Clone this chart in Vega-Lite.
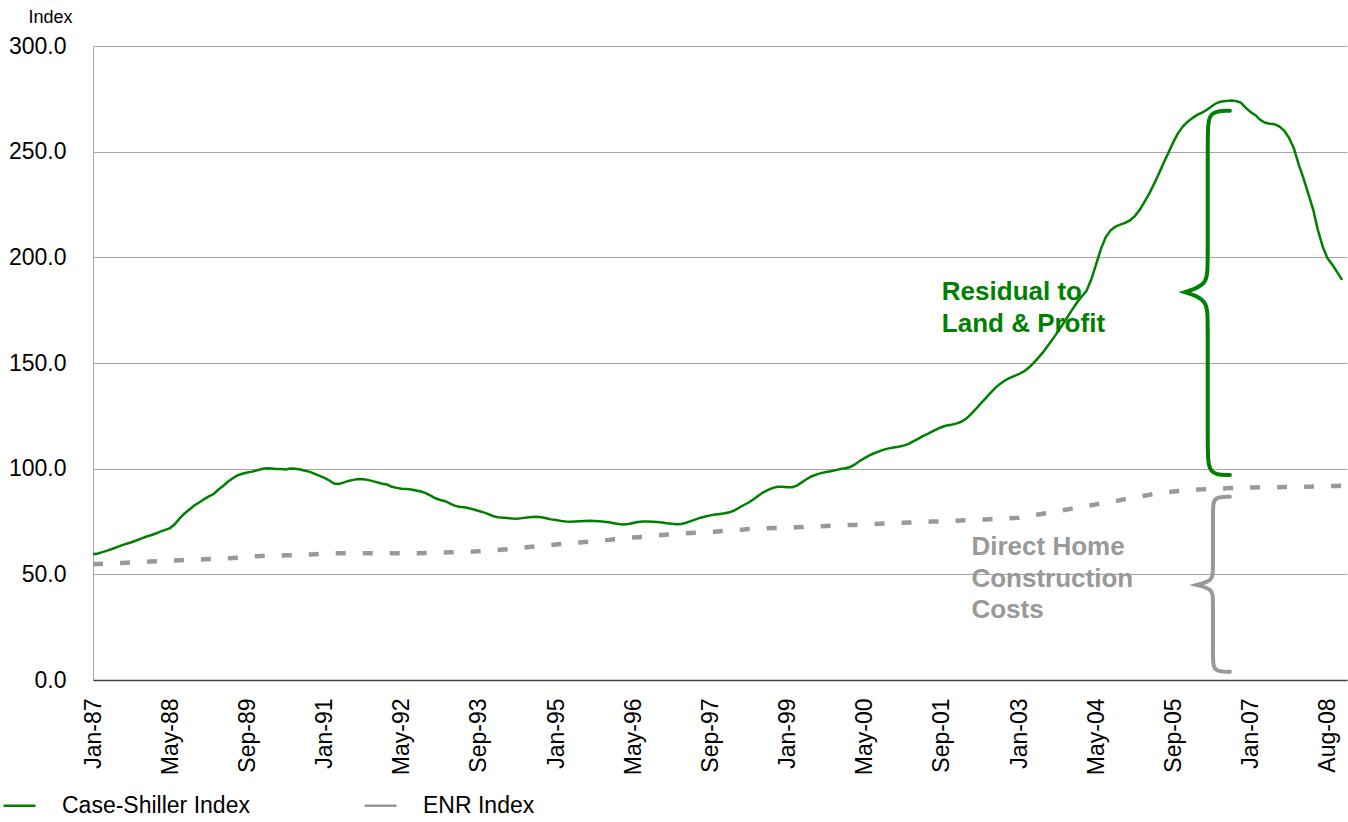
{
 "$schema": "https://vega.github.io/schema/vega-lite/v6.json",
 "width": 1254,
 "height": 634,
 "autosize": {"type": "none"},
 "padding": {"left": 93, "top": 46, "right": 1, "bottom": 142},
 "background": "white",
 "config": {"font": "Liberation Sans", "view": {"stroke": null}},
 "datasets": {
  "series": [
   {"d":"1987-01","cs":59.5,"enr":54.8},{"d":"1987-02","cs":59.9,"enr":54.9},{"d":"1987-03","cs":60.5,"enr":55.0},{"d":"1987-04","cs":61.2,"enr":55.1},{"d":"1987-05","cs":62.0,"enr":55.2},{"d":"1987-06","cs":62.9,"enr":55.3},{"d":"1987-07","cs":63.7,"enr":55.4},{"d":"1987-08","cs":64.5,"enr":55.5},{"d":"1987-09","cs":65.2,"enr":55.6},{"d":"1987-10","cs":66.0,"enr":55.7},{"d":"1987-11","cs":66.9,"enr":55.8},{"d":"1987-12","cs":67.8,"enr":55.9},
   {"d":"1988-01","cs":68.5,"enr":56.1},{"d":"1988-02","cs":69.3,"enr":56.2},{"d":"1988-03","cs":70.2,"enr":56.3},{"d":"1988-04","cs":71.0,"enr":56.4},{"d":"1988-05","cs":71.9,"enr":56.5},{"d":"1988-06","cs":73.8,"enr":56.6},{"d":"1988-07","cs":76.5,"enr":56.7},{"d":"1988-08","cs":78.8,"enr":56.8},{"d":"1988-09","cs":80.7,"enr":56.9},{"d":"1988-10","cs":82.6,"enr":57.0},{"d":"1988-11","cs":84.0,"enr":57.0},{"d":"1988-12","cs":85.5,"enr":57.1},
   {"d":"1989-01","cs":86.9,"enr":57.2},{"d":"1989-02","cs":88.0,"enr":57.3},{"d":"1989-03","cs":90.0,"enr":57.4},{"d":"1989-04","cs":91.8,"enr":57.5},{"d":"1989-05","cs":93.8,"enr":57.6},{"d":"1989-06","cs":95.5,"enr":57.7},{"d":"1989-07","cs":96.8,"enr":57.9},{"d":"1989-08","cs":97.6,"enr":58.1},{"d":"1989-09","cs":98.2,"enr":58.3},{"d":"1989-10","cs":98.6,"enr":58.5},{"d":"1989-11","cs":99.2,"enr":58.6},{"d":"1989-12","cs":99.8,"enr":58.7},
   {"d":"1990-01","cs":100.2,"enr":58.8},{"d":"1990-02","cs":100.1,"enr":58.8},{"d":"1990-03","cs":99.9,"enr":58.9},{"d":"1990-04","cs":99.8,"enr":58.9},{"d":"1990-05","cs":99.6,"enr":59.0},{"d":"1990-06","cs":100.1,"enr":59.0},{"d":"1990-07","cs":100.0,"enr":59.1},{"d":"1990-08","cs":99.6,"enr":59.2},{"d":"1990-09","cs":99.0,"enr":59.3},{"d":"1990-10","cs":98.5,"enr":59.4},{"d":"1990-11","cs":97.5,"enr":59.5},{"d":"1990-12","cs":96.6,"enr":59.6},
   {"d":"1991-01","cs":95.6,"enr":59.7},{"d":"1991-02","cs":94.4,"enr":59.8},{"d":"1991-03","cs":93.0,"enr":59.9},{"d":"1991-04","cs":92.8,"enr":60.0},{"d":"1991-05","cs":93.4,"enr":60.0},{"d":"1991-06","cs":94.2,"enr":60.0},{"d":"1991-07","cs":94.7,"enr":60.0},{"d":"1991-08","cs":95.1,"enr":60.0},{"d":"1991-09","cs":95.0,"enr":60.0},{"d":"1991-10","cs":94.7,"enr":60.0},{"d":"1991-11","cs":94.1,"enr":60.0},{"d":"1991-12","cs":93.5,"enr":60.0},
   {"d":"1992-01","cs":92.9,"enr":60.0},{"d":"1992-02","cs":92.5,"enr":60.0},{"d":"1992-03","cs":91.4,"enr":60.0},{"d":"1992-04","cs":90.9,"enr":60.0},{"d":"1992-05","cs":90.5,"enr":60.0},{"d":"1992-06","cs":90.4,"enr":60.0},{"d":"1992-07","cs":90.1,"enr":60.0},{"d":"1992-08","cs":89.7,"enr":60.0},{"d":"1992-09","cs":89.2,"enr":60.0},{"d":"1992-10","cs":88.4,"enr":60.1},{"d":"1992-11","cs":87.2,"enr":60.1},{"d":"1992-12","cs":86.0,"enr":60.2},
   {"d":"1993-01","cs":85.2,"enr":60.3},{"d":"1993-02","cs":84.6,"enr":60.3},{"d":"1993-03","cs":83.6,"enr":60.4},{"d":"1993-04","cs":82.5,"enr":60.5},{"d":"1993-05","cs":82.0,"enr":60.6},{"d":"1993-06","cs":81.7,"enr":60.6},{"d":"1993-07","cs":81.3,"enr":60.7},{"d":"1993-08","cs":80.7,"enr":60.8},{"d":"1993-09","cs":80.0,"enr":60.9},{"d":"1993-10","cs":79.3,"enr":61.0},{"d":"1993-11","cs":78.5,"enr":61.1},{"d":"1993-12","cs":77.5,"enr":61.3},
   {"d":"1994-01","cs":77.0,"enr":61.5},{"d":"1994-02","cs":76.8,"enr":61.7},{"d":"1994-03","cs":76.6,"enr":61.9},{"d":"1994-04","cs":76.4,"enr":62.1},{"d":"1994-05","cs":76.3,"enr":62.3},{"d":"1994-06","cs":76.6,"enr":62.5},{"d":"1994-07","cs":76.9,"enr":62.8},{"d":"1994-08","cs":77.1,"enr":63.1},{"d":"1994-09","cs":77.2,"enr":63.3},{"d":"1994-10","cs":77.0,"enr":63.5},{"d":"1994-11","cs":76.5,"enr":63.7},{"d":"1994-12","cs":76.0,"enr":63.9},
   {"d":"1995-01","cs":75.7,"enr":64.1},{"d":"1995-02","cs":75.3,"enr":64.3},{"d":"1995-03","cs":75.0,"enr":64.5},{"d":"1995-04","cs":74.9,"enr":64.7},{"d":"1995-05","cs":75.0,"enr":64.9},{"d":"1995-06","cs":75.1,"enr":65.1},{"d":"1995-07","cs":75.2,"enr":65.3},{"d":"1995-08","cs":75.3,"enr":65.5},{"d":"1995-09","cs":75.2,"enr":65.7},{"d":"1995-10","cs":75.1,"enr":65.9},{"d":"1995-11","cs":74.9,"enr":66.1},{"d":"1995-12","cs":74.6,"enr":66.3},
   {"d":"1996-01","cs":74.2,"enr":66.6},{"d":"1996-02","cs":73.8,"enr":66.8},{"d":"1996-03","cs":73.6,"enr":67.0},{"d":"1996-04","cs":73.8,"enr":67.2},{"d":"1996-05","cs":74.3,"enr":67.4},{"d":"1996-06","cs":74.8,"enr":67.6},{"d":"1996-07","cs":75.0,"enr":67.8},{"d":"1996-08","cs":75.0,"enr":68.0},{"d":"1996-09","cs":74.9,"enr":68.2},{"d":"1996-10","cs":74.8,"enr":68.4},{"d":"1996-11","cs":74.5,"enr":68.6},{"d":"1996-12","cs":74.2,"enr":68.8},
   {"d":"1997-01","cs":73.9,"enr":68.9},{"d":"1997-02","cs":73.7,"enr":69.1},{"d":"1997-03","cs":73.8,"enr":69.3},{"d":"1997-04","cs":74.4,"enr":69.4},{"d":"1997-05","cs":75.2,"enr":69.6},{"d":"1997-06","cs":76.0,"enr":69.7},{"d":"1997-07","cs":76.8,"enr":69.8},{"d":"1997-08","cs":77.4,"enr":69.9},{"d":"1997-09","cs":77.9,"enr":70.0},{"d":"1997-10","cs":78.3,"enr":70.2},{"d":"1997-11","cs":78.6,"enr":70.4},{"d":"1997-12","cs":78.9,"enr":70.6},
   {"d":"1998-01","cs":79.4,"enr":70.7},{"d":"1998-02","cs":80.3,"enr":70.9},{"d":"1998-03","cs":81.5,"enr":71.1},{"d":"1998-04","cs":82.8,"enr":71.2},{"d":"1998-05","cs":84.0,"enr":71.4},{"d":"1998-06","cs":85.5,"enr":71.5},{"d":"1998-07","cs":87.2,"enr":71.6},{"d":"1998-08","cs":88.8,"enr":71.7},{"d":"1998-09","cs":90.0,"enr":71.8},{"d":"1998-10","cs":90.9,"enr":71.9},{"d":"1998-11","cs":91.4,"enr":72.0},{"d":"1998-12","cs":91.4,"enr":72.0},
   {"d":"1999-01","cs":91.2,"enr":72.1},{"d":"1999-02","cs":91.2,"enr":72.2},{"d":"1999-03","cs":92.0,"enr":72.3},{"d":"1999-04","cs":93.5,"enr":72.4},{"d":"1999-05","cs":95.0,"enr":72.5},{"d":"1999-06","cs":96.3,"enr":72.6},{"d":"1999-07","cs":97.2,"enr":72.7},{"d":"1999-08","cs":97.9,"enr":72.8},{"d":"1999-09","cs":98.4,"enr":72.9},{"d":"1999-10","cs":98.8,"enr":73.0},{"d":"1999-11","cs":99.3,"enr":73.1},{"d":"1999-12","cs":99.8,"enr":73.2},
   {"d":"2000-01","cs":100.2,"enr":73.3},{"d":"2000-02","cs":100.8,"enr":73.4},{"d":"2000-03","cs":102.0,"enr":73.4},{"d":"2000-04","cs":103.6,"enr":73.5},{"d":"2000-05","cs":105.0,"enr":73.6},{"d":"2000-06","cs":106.3,"enr":73.7},{"d":"2000-07","cs":107.3,"enr":73.8},{"d":"2000-08","cs":108.2,"enr":73.9},{"d":"2000-09","cs":109.0,"enr":74.0},{"d":"2000-10","cs":109.6,"enr":74.1},{"d":"2000-11","cs":110.0,"enr":74.2},{"d":"2000-12","cs":110.4,"enr":74.3},
   {"d":"2001-01","cs":110.9,"enr":74.4},{"d":"2001-02","cs":111.6,"enr":74.5},{"d":"2001-03","cs":112.8,"enr":74.6},{"d":"2001-04","cs":114.0,"enr":74.7},{"d":"2001-05","cs":115.3,"enr":74.8},{"d":"2001-06","cs":116.4,"enr":74.9},{"d":"2001-07","cs":117.5,"enr":75.0},{"d":"2001-08","cs":118.7,"enr":75.0},{"d":"2001-09","cs":119.7,"enr":75.1},{"d":"2001-10","cs":120.4,"enr":75.2},{"d":"2001-11","cs":120.8,"enr":75.3},{"d":"2001-12","cs":121.3,"enr":75.4},
   {"d":"2002-01","cs":122.2,"enr":75.5},{"d":"2002-02","cs":123.6,"enr":75.6},{"d":"2002-03","cs":125.6,"enr":75.7},{"d":"2002-04","cs":128.0,"enr":75.8},{"d":"2002-05","cs":130.5,"enr":75.9},{"d":"2002-06","cs":133.0,"enr":76.0},{"d":"2002-07","cs":135.5,"enr":76.1},{"d":"2002-08","cs":138.0,"enr":76.2},{"d":"2002-09","cs":140.0,"enr":76.3},{"d":"2002-10","cs":141.6,"enr":76.4},{"d":"2002-11","cs":142.8,"enr":76.5},{"d":"2002-12","cs":143.8,"enr":76.6},
   {"d":"2003-01","cs":144.8,"enr":76.8},{"d":"2003-02","cs":146.0,"enr":77.1},{"d":"2003-03","cs":147.6,"enr":77.5},{"d":"2003-04","cs":149.8,"enr":77.9},{"d":"2003-05","cs":152.3,"enr":78.3},{"d":"2003-06","cs":155.0,"enr":78.7},{"d":"2003-07","cs":158.0,"enr":79.1},{"d":"2003-08","cs":161.2,"enr":79.5},{"d":"2003-09","cs":164.6,"enr":79.9},{"d":"2003-10","cs":168.0,"enr":80.3},{"d":"2003-11","cs":171.5,"enr":80.7},{"d":"2003-12","cs":175.0,"enr":81.1},
   {"d":"2004-01","cs":178.5,"enr":81.5},{"d":"2004-02","cs":181.5,"enr":81.9},{"d":"2004-03","cs":184.0,"enr":82.3},{"d":"2004-04","cs":189.5,"enr":82.7},{"d":"2004-05","cs":196.5,"enr":83.1},{"d":"2004-06","cs":204.0,"enr":83.5},{"d":"2004-07","cs":209.5,"enr":83.9},{"d":"2004-08","cs":212.8,"enr":84.3},{"d":"2004-09","cs":214.5,"enr":84.7},{"d":"2004-10","cs":215.5,"enr":85.1},{"d":"2004-11","cs":216.3,"enr":85.6},{"d":"2004-12","cs":217.5,"enr":86.0},
   {"d":"2005-01","cs":219.5,"enr":86.4},{"d":"2005-02","cs":222.5,"enr":86.8},{"d":"2005-03","cs":226.0,"enr":87.2},{"d":"2005-04","cs":230.0,"enr":87.6},{"d":"2005-05","cs":234.5,"enr":88.0},{"d":"2005-06","cs":239.5,"enr":88.3},{"d":"2005-07","cs":244.5,"enr":88.6},{"d":"2005-08","cs":249.5,"enr":88.9},{"d":"2005-09","cs":254.5,"enr":89.2},{"d":"2005-10","cs":258.8,"enr":89.4},{"d":"2005-11","cs":262.0,"enr":89.6},{"d":"2005-12","cs":264.2,"enr":89.8},
   {"d":"2006-01","cs":266.0,"enr":90.0},{"d":"2006-02","cs":267.5,"enr":90.1},{"d":"2006-03","cs":268.5,"enr":90.2},{"d":"2006-04","cs":269.8,"enr":90.3},{"d":"2006-05","cs":271.5,"enr":90.4},{"d":"2006-06","cs":273.0,"enr":90.5},{"d":"2006-07","cs":273.7,"enr":90.6},{"d":"2006-08","cs":274.0,"enr":90.7},{"d":"2006-09","cs":274.2,"enr":90.8},{"d":"2006-10","cs":274.0,"enr":90.9},{"d":"2006-11","cs":273.2,"enr":91.0},{"d":"2006-12","cs":270.8,"enr":91.0},
   {"d":"2007-01","cs":268.8,"enr":91.1},{"d":"2007-02","cs":267.3,"enr":91.1},{"d":"2007-03","cs":265.2,"enr":91.2},{"d":"2007-04","cs":263.8,"enr":91.2},{"d":"2007-05","cs":263.2,"enr":91.2},{"d":"2007-06","cs":263.0,"enr":91.2},{"d":"2007-07","cs":262.0,"enr":91.2},{"d":"2007-08","cs":260.0,"enr":91.3},{"d":"2007-09","cs":256.5,"enr":91.3},{"d":"2007-10","cs":251.8,"enr":91.4},{"d":"2007-11","cs":244.0,"enr":91.4},{"d":"2007-12","cs":237.5,"enr":91.5},
   {"d":"2008-01","cs":230.0,"enr":91.5},{"d":"2008-02","cs":222.5,"enr":91.6},{"d":"2008-03","cs":213.0,"enr":91.6},{"d":"2008-04","cs":205.0,"enr":91.7},{"d":"2008-05","cs":199.5,"enr":91.7},{"d":"2008-06","cs":196.5,"enr":91.8},{"d":"2008-07","cs":193.0,"enr":91.8},{"d":"2008-08","cs":189.3,"enr":91.9}
  ],
  "greenBrace": [
   {"k":0,"d":"2006-08-24","v":269.4},{"k":1,"d":"2006-04-06","v":269.4},{"k":2,"d":"2006-04-06","v":257},{"k":3,"d":"2006-04-06","v":197},{"k":4,"d":"2006-04-06","v":187},
   {"k":5,"d":"2005-11-13","v":183.5},{"k":6,"d":"2005-11-13","v":183.5},{"k":7,"d":"2005-11-13","v":183.5},
   {"k":8,"d":"2006-04-06","v":180},{"k":9,"d":"2006-04-06","v":170},{"k":10,"d":"2006-04-06","v":110},{"k":11,"d":"2006-04-06","v":97},{"k":12,"d":"2006-08-24","v":97}
  ],
  "grayBrace": [
   {"k":0,"d":"2006-08-24","v":86.7},{"k":1,"d":"2006-05-09","v":86.7},{"k":2,"d":"2006-05-09","v":80},{"k":3,"d":"2006-05-09","v":52},{"k":4,"d":"2006-05-09","v":47},
   {"k":5,"d":"2006-01-27","v":45},{"k":6,"d":"2006-01-27","v":45},{"k":7,"d":"2006-01-27","v":45},
   {"k":8,"d":"2006-05-09","v":43},{"k":9,"d":"2006-05-09","v":38},{"k":10,"d":"2006-05-09","v":11},{"k":11,"d":"2006-05-09","v":3.9},{"k":12,"d":"2006-08-24","v":3.9}
  ],
  "greenText": [
   {"t":"Residual to","d":"2001-09-01","v":179.8},
   {"t":"Land & Profit","d":"2001-09-01","v":164.8}
  ],
  "grayText": [
   {"t":"Direct Home","d":"2002-03-07","v":59.2},
   {"t":"Construction","d":"2002-03-07","v":44.2},
   {"t":"Costs","d":"2002-03-07","v":29.2}
  ]
 },
 "encoding": {
  "x": {
   "field": "d", "type": "temporal",
   "scale": {"type": "utc", "domain": [{"year":1987,"month":1,"date":1,"utc":true},{"year":2008,"month":9,"date":1,"utc":true}]},
   "axis": {
    "title": null,
    "values": [
     {"year":1987,"month":1,"date":1,"utc":true},{"year":1988,"month":5,"date":1,"utc":true},{"year":1989,"month":9,"date":1,"utc":true},
     {"year":1991,"month":1,"date":1,"utc":true},{"year":1992,"month":5,"date":1,"utc":true},{"year":1993,"month":9,"date":1,"utc":true},
     {"year":1995,"month":1,"date":1,"utc":true},{"year":1996,"month":5,"date":1,"utc":true},{"year":1997,"month":9,"date":1,"utc":true},
     {"year":1999,"month":1,"date":1,"utc":true},{"year":2000,"month":5,"date":1,"utc":true},{"year":2001,"month":9,"date":1,"utc":true},
     {"year":2003,"month":1,"date":1,"utc":true},{"year":2004,"month":5,"date":1,"utc":true},{"year":2005,"month":9,"date":1,"utc":true},
     {"year":2007,"month":1,"date":1,"utc":true},{"year":2008,"month":5,"date":1,"utc":true}
    ],
    "labelExpr": "utcFormat(datum.value, '%b-%y') == 'May-08' ? 'Aug-08' : utcFormat(datum.value, '%b-%y')",
    "labelAngle": -90,
    "labelFontSize": 23,
    "labelColor": "#000000",
    "labelPadding": 18,
    "labelOverlap": false,
    "labelFlush": false,
    "ticks": false,
    "grid": false,
    "domainColor": "#404040",
    "domainWidth": 1.5
   }
  },
  "y": {
   "field": "v", "type": "quantitative",
   "scale": {"domain": [0, 300], "nice": false},
   "axis": {
    "title": "Index", "titleAngle": 0, "titleFontSize": 18, "titleFontWeight": "normal", "titleColor": "#000000",
    "titleX": -65, "titleY": -24, "titleAlign": "left", "titleBaseline": "alphabetic",
    "values": [0, 50, 100, 150, 200, 250, 300], "format": ".1f",
    "labelFontSize": 23, "labelColor": "#000000", "labelPadding": 27,
    "ticks": false, "grid": true, "gridColor": "#a6a6a6", "gridWidth": 1,
    "domainColor": "#a6a6a6", "domainWidth": 1
   }
  }
 },
 "layer": [
  {
   "data": {"name": "greenText"},
   "mark": {"type": "text", "align": "left", "baseline": "alphabetic", "fontSize": 26, "fontWeight": "bold", "color": "#008000"},
   "encoding": {"text": {"field": "t"}}
  },
  {
   "data": {"name": "grayText"},
   "mark": {"type": "text", "align": "left", "baseline": "alphabetic", "fontSize": 26, "fontWeight": "bold", "color": "#999999"},
   "encoding": {"text": {"field": "t"}}
  },
  {
   "data": {"name": "series"},
   "transform": [{"fold": ["enr"], "as": ["s", "v"]}],
   "mark": {"type": "line", "strokeWidth": 4.5, "strokeDash": [10, 17]},
   "encoding": {
    "color": {
     "datum": "ENR Index", "type": "nominal",
     "scale": {"domain": ["Case-Shiller Index", "ENR Index"], "range": ["#008000", "#999999"]},
     "legend": {
      "orient": "none", "legendX": -91, "legendY": 742, "direction": "horizontal", "title": null,
      "symbolType": "stroke", "symbolSize": 1024, "symbolStrokeWidth": 2.5,
      "labelFontSize": 23, "labelColor": "#000000", "labelOffset": 25, "columnPadding": 109, "labelLimit": 400, "padding": 0
     }
    }
   }
  },
  {
   "data": {"name": "series"},
   "transform": [{"fold": ["cs"], "as": ["s", "v"]}],
   "mark": {"type": "line", "strokeWidth": 2.5},
   "encoding": {
    "color": {"datum": "Case-Shiller Index", "type": "nominal"}
   }
  },
  {
   "data": {"name": "greenBrace"},
   "mark": {"type": "line", "interpolate": "basis", "strokeWidth": 4, "color": "#008000", "strokeCap": "round"},
   "encoding": {"order": {"field": "k"}}
  },
  {
   "data": {"name": "grayBrace"},
   "mark": {"type": "line", "interpolate": "basis", "strokeWidth": 4, "color": "#999999", "strokeCap": "round"},
   "encoding": {"order": {"field": "k"}}
  }
 ]
}
